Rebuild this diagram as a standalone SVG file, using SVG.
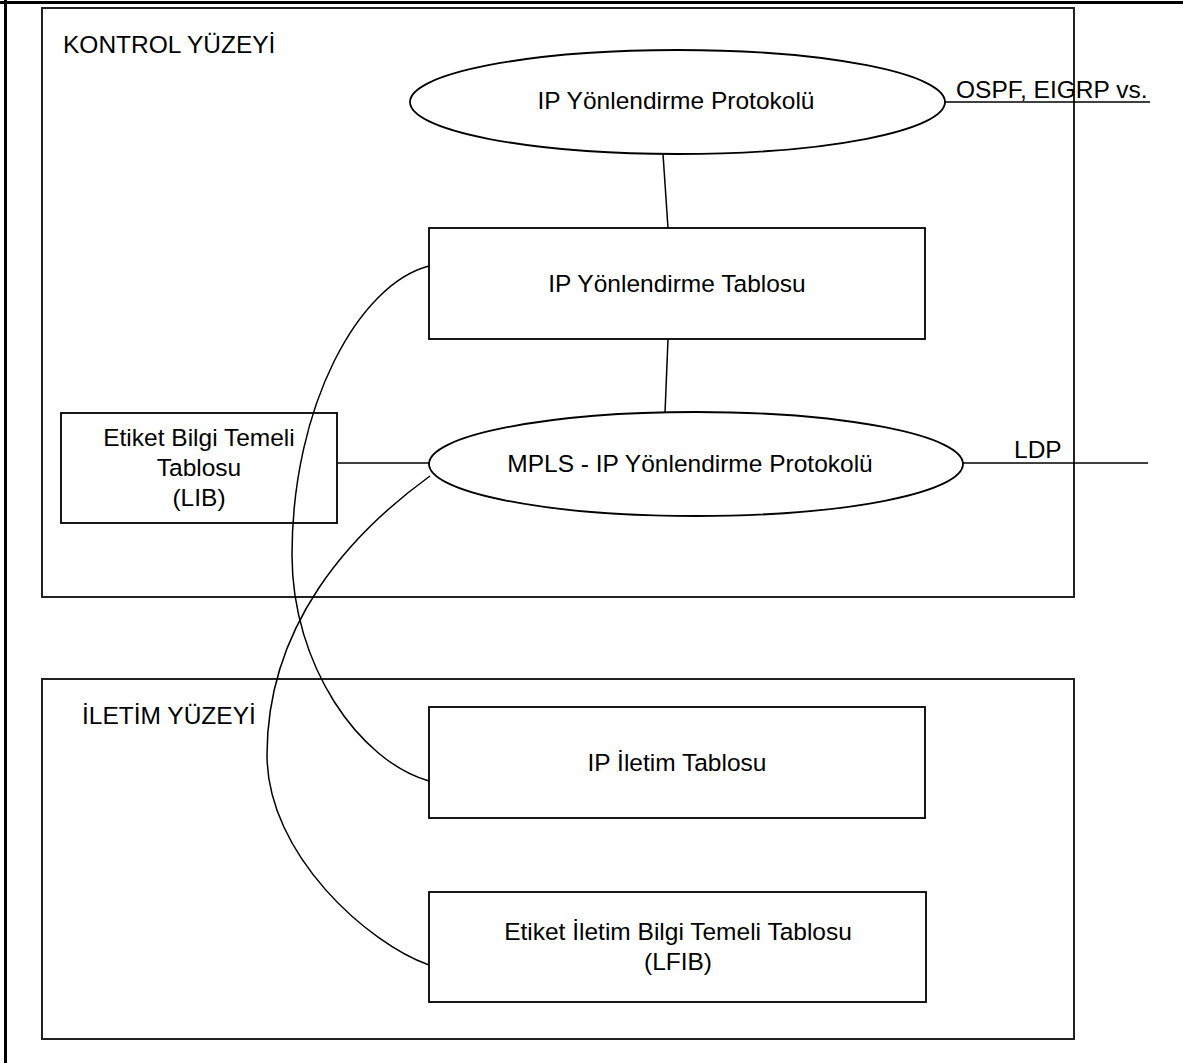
<svg xmlns="http://www.w3.org/2000/svg" width="1183" height="1063" viewBox="0 0 1183 1063">
  <style>
    .frame { fill: none; stroke: #000; stroke-width: 3; }
    .plane { fill: none; stroke: #222; stroke-width: 2; }
    .box { fill: none; stroke: #000; stroke-width: 1.8; }
    .link { fill: none; stroke: #000; stroke-width: 1.5; }
    text { font-family: "Liberation Sans", Arial, sans-serif; font-size: 24.5px; fill: #000; }
    .c { text-anchor: middle; }
  </style>
  <rect width="1183" height="1063" fill="#fff"/>

  <!-- page frame -->
  <g id="page-frame">
    <line class="frame" x1="0" y1="2.5" x2="1183" y2="2.5"/>
    <line class="frame" x1="5.5" y1="0" x2="5.5" y2="1063"/>
  </g>

  <!-- plane containers -->
  <g id="control-plane">
    <rect class="plane" x="42" y="8" width="1032" height="589"/>
    <text x="63" y="53">KONTROL YÜZEYİ</text>
  </g>
  <g id="forwarding-plane">
    <rect class="plane" x="42" y="679" width="1032" height="360"/>
    <text x="82" y="724">İLETİM YÜZEYİ</text>
  </g>

  <!-- connectors -->
  <g id="connectors">
    <line class="link" x1="945" y1="102" x2="1150" y2="102"/>
    <line class="link" x1="663" y1="154" x2="668" y2="228"/>
    <line class="link" x1="668" y1="339" x2="665" y2="413"/>
    <line class="link" x1="337" y1="463" x2="429" y2="463"/>
    <line class="link" x1="963" y1="463" x2="1148" y2="463"/>
    <!-- routing table to IP forwarding table -->
    <path class="link" d="M429,266 C359,284 292,405 292,555 C292,665 359,761 429,781"/>
    <!-- MPLS protocol to LFIB -->
    <path class="link" d="M430,476 C350,534 267,625 267,755 C267,855 369,944 429,965"/>
  </g>
  <g id="edge-labels">
    <text x="956" y="98">OSPF, EIGRP vs.</text>
    <text x="1014" y="458">LDP</text>
  </g>

  <!-- nodes -->
  <g id="ip-routing-protocol">
    <ellipse class="box" cx="677.5" cy="102" rx="267.5" ry="52"/>
    <text class="c" x="676" y="109">IP Yönlendirme Protokolü</text>
  </g>
  <g id="ip-routing-table">
    <rect class="box" x="429" y="228" width="496" height="111"/>
    <text class="c" x="677" y="292">IP Yönlendirme Tablosu</text>
  </g>
  <g id="lib">
    <rect class="box" x="61" y="413" width="276" height="110"/>
    <text class="c" x="199" y="446">Etiket Bilgi Temeli</text>
    <text class="c" x="199" y="476">Tablosu</text>
    <text class="c" x="199" y="506">(LIB)</text>
  </g>
  <g id="mpls-ip-routing-protocol">
    <ellipse class="box" cx="696" cy="464" rx="267" ry="52"/>
    <text class="c" x="690" y="472">MPLS - IP Yönlendirme Protokolü</text>
  </g>
  <g id="ip-forwarding-table">
    <rect class="box" x="429" y="707" width="496" height="111"/>
    <text class="c" x="677" y="771">IP İletim Tablosu</text>
  </g>
  <g id="lfib">
    <rect class="box" x="429" y="892" width="497" height="110"/>
    <text class="c" x="678" y="940">Etiket İletim Bilgi Temeli Tablosu</text>
    <text class="c" x="678" y="970">(LFIB)</text>
  </g>
</svg>
